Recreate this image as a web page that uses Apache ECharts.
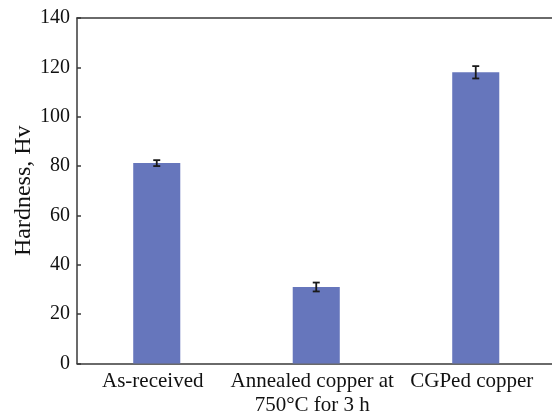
<!DOCTYPE html>
<html><head><meta charset="utf-8">
<script src="https://cdn.jsdelivr.net/npm/echarts@6/dist/echarts.min.js"></script>
<style>html,body{margin:0;padding:0;background:#fff;overflow:hidden}#c{width:552px;height:414px}</style>
</head><body><div id="c"></div>
<script>
var categories = ['As-received', 'Annealed copper at\n750°C for 3 h', 'CGPed copper'];
var hardness = [81.2, 31.0, 118.0];
var errors = [1.2, 1.8, 2.5];
var yTicks = [0, 20, 40, 60, 80, 100, 120, 140];

var chart = echarts.init(document.getElementById('c'));
var font = '"Liberation Serif", "Times New Roman", serif';
chart.setOption({
  animation: false,
  grid: {left: 77, width: 478.5, top: 18, bottom: 50.5, containLabel: false, outerBoundsMode: 'none'},
  xAxis: [{
    type: 'category', data: categories,
    axisLine: {lineStyle: {color: '#3a3a3a', width: 1.5}},
    axisTick: {show: false},
    axisLabel: {color: '#111', fontFamily: font, fontSize: 21, lineHeight: 24, margin: 6, interval: 0, padding: [0, 8, 0, 0]}
  }, {
    type: 'category', data: categories, position: 'top',
    axisLine: {show: true, lineStyle: {color: '#3a3a3a', width: 1.5}},
    axisTick: {show: false}, axisLabel: {show: false}
  }],
  yAxis: {
    type: 'value', min: yTicks[0], max: yTicks[yTicks.length - 1], interval: 20,
    name: 'Hardness, Hv', nameLocation: 'middle', nameGap: 41, nameMoveOverlap: false,
    nameTextStyle: {color: '#111', fontFamily: font, fontSize: 24},
    axisLine: {show: true, lineStyle: {color: '#3a3a3a', width: 1.5}},
    axisTick: {show: true, inside: true, length: 4, lineStyle: {color: '#3a3a3a', width: 1.5}},
    splitLine: {show: false},
    axisLabel: {color: '#111', fontFamily: font, fontSize: 20, margin: 7}
  },
  series: [
    {type: 'bar', data: hardness, barWidth: '29.5%', itemStyle: {color: '#6676BC'}},
    {
      type: 'custom', z: 10,
      data: hardness.map(function (v, i) { return [i, v - errors[i], v + errors[i]]; }),
      renderItem: function (params, api) {
        var lo = api.coord([api.value(0), api.value(1)]);
        var hi = api.coord([api.value(0), api.value(2)]);
        var hw = 3.5;
        var st = {stroke: '#1a1a1a', lineWidth: 1.8};
        return {type: 'group', children: [
          {type: 'line', shape: {x1: lo[0], y1: lo[1], x2: hi[0], y2: hi[1]}, style: st},
          {type: 'line', shape: {x1: lo[0] - hw, y1: lo[1], x2: lo[0] + hw, y2: lo[1]}, style: st},
          {type: 'line', shape: {x1: hi[0] - hw, y1: hi[1], x2: hi[0] + hw, y2: hi[1]}, style: st}
        ]};
      }
    }
  ]
});
</script></body></html>
